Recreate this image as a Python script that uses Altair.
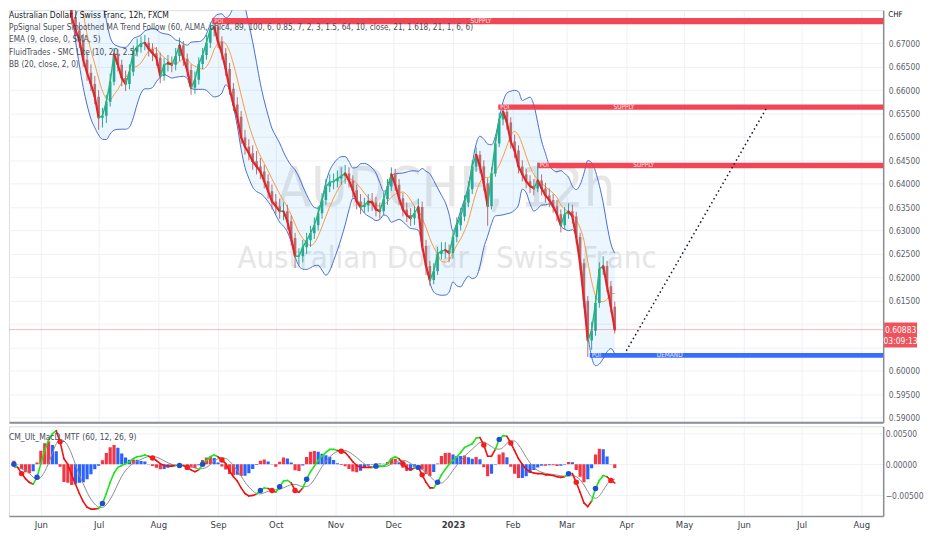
import altair as alt
import pandas as pd

FONT = "'Liberation Sans Narrow', 'DejaVu Sans Condensed', 'Arial Narrow', sans-serif"

# ---------------- data ----------------
start_date = "2022-05-12"   # 2-day bars
first_open = 0.6940
closes = [
    0.6930, 0.6920, 0.6950, 0.6890, 0.6880, 0.6880, 0.6850, 0.6860, 0.6860, 0.6900,
    0.6960, 0.6980, 0.6990, 0.6980, 0.6950, 0.6930, 0.6900, 0.6826, 0.6756, 0.6728,
    0.6707, 0.6665, 0.6637, 0.6613, 0.6586, 0.6541, 0.6545, 0.6575, 0.6618, 0.6677,
    0.6654, 0.6626, 0.6613, 0.6639, 0.6682, 0.6692, 0.6699, 0.6701, 0.6688, 0.6679,
    0.6669, 0.6630, 0.6654, 0.6658, 0.6654, 0.6673, 0.6696, 0.6667, 0.6643, 0.6605,
    0.6622, 0.6656, 0.6675, 0.6701, 0.6730, 0.6735, 0.6703, 0.6679, 0.6645, 0.6603,
    0.6569, 0.6543, 0.6499, 0.6479, 0.6465, 0.6448, 0.6437, 0.6426, 0.6405, 0.6384,
    0.6362, 0.6352, 0.6341, 0.6341, 0.6320, 0.6284, 0.6245, 0.6245, 0.6264, 0.6279,
    0.6294, 0.6311, 0.6337, 0.6365, 0.6394, 0.6403, 0.6405, 0.6411, 0.6416, 0.6422,
    0.6407, 0.6386, 0.6362, 0.6350, 0.6354, 0.6362, 0.6360, 0.6345, 0.6341, 0.6367,
    0.6394, 0.6420, 0.6398, 0.6369, 0.6345, 0.6333, 0.6326, 0.6337, 0.6350, 0.6267,
    0.6224, 0.6194, 0.6213, 0.6250, 0.6256, 0.6258, 0.6252, 0.6286, 0.6311, 0.6330,
    0.6360, 0.6388, 0.6437, 0.6462, 0.6437, 0.6401, 0.6352, 0.6422, 0.6486, 0.6537,
    0.6554, 0.6531, 0.6490, 0.6471, 0.6437, 0.6420, 0.6405, 0.6395, 0.6390, 0.6407,
    0.6390, 0.6375, 0.6365, 0.6352, 0.6335, 0.6311, 0.6335, 0.6341, 0.6330, 0.6286,
    0.6230, 0.6150, 0.6065, 0.6086, 0.6145, 0.6218, 0.6224, 0.6181, 0.6137, 0.60883,
]
highs = [
    0.6955, 0.6945, 0.6965, 0.6960, 0.6905, 0.6900, 0.6890, 0.6875, 0.6878, 0.6912,
    0.6972, 0.6995, 0.7005, 0.7002, 0.6992, 0.6962, 0.6945, 0.6915, 0.6840, 0.6772,
    0.6745, 0.6720, 0.6680, 0.6655, 0.6630, 0.6600, 0.6562, 0.6590, 0.6635, 0.6690,
    0.6688, 0.6665, 0.6642, 0.6655, 0.6695, 0.6710, 0.6715, 0.6718, 0.6712, 0.6700,
    0.6692, 0.6680, 0.6668, 0.6675, 0.6672, 0.6690, 0.6712, 0.6705, 0.6678, 0.6655,
    0.6640, 0.6670, 0.6690, 0.6718, 0.6745, 0.6752, 0.6745, 0.6715, 0.6690, 0.6658,
    0.6615, 0.6585, 0.6555, 0.6515, 0.6495, 0.6482, 0.6470, 0.6455, 0.6440, 0.6420,
    0.6398, 0.6378, 0.6368, 0.6360, 0.6355, 0.6332, 0.6295, 0.6262, 0.6280, 0.6295,
    0.6310, 0.6328, 0.6352, 0.6380, 0.6410, 0.6420, 0.6422, 0.6428, 0.6435, 0.6440,
    0.6435, 0.6418, 0.6398, 0.6378, 0.6370, 0.6378, 0.6380, 0.6372, 0.6360, 0.6382,
    0.6410, 0.6435, 0.6432, 0.6410, 0.6380, 0.6360, 0.6348, 0.6352, 0.6368, 0.6362,
    0.6280, 0.6235, 0.6230, 0.6265, 0.6275, 0.6275, 0.6270, 0.6300, 0.6328, 0.6348,
    0.6375, 0.6405, 0.6450, 0.6478, 0.6470, 0.6450, 0.6412, 0.6435, 0.6500, 0.6552,
    0.6568, 0.6565, 0.6542, 0.6505, 0.6482, 0.6450, 0.6432, 0.6418, 0.6410, 0.6445,
    0.6420, 0.6402, 0.6390, 0.6378, 0.6365, 0.6345, 0.6350, 0.6358, 0.6355, 0.6340,
    0.6295, 0.6240, 0.6160, 0.6105, 0.6160, 0.6232, 0.6245, 0.6235, 0.6192, 0.6148,
]
lows = [
    0.6915, 0.6905, 0.6910, 0.6875, 0.6865, 0.6862, 0.6838, 0.6840, 0.6845, 0.6850,
    0.6892, 0.6950, 0.6968, 0.6965, 0.6938, 0.6915, 0.6885, 0.6815, 0.6740, 0.6712,
    0.6690, 0.6650, 0.6620, 0.6598, 0.6570, 0.6515, 0.6520, 0.6530, 0.6565, 0.6610,
    0.6640, 0.6608, 0.6598, 0.6602, 0.6630, 0.6672, 0.6680, 0.6685, 0.6672, 0.6662,
    0.6652, 0.6615, 0.6620, 0.6640, 0.6638, 0.6642, 0.6662, 0.6652, 0.6628, 0.6590,
    0.6592, 0.6612, 0.6645, 0.6665, 0.6690, 0.6715, 0.6690, 0.6665, 0.6630, 0.6590,
    0.6555, 0.6528, 0.6485, 0.6462, 0.6450, 0.6430, 0.6420, 0.6410, 0.6390, 0.6368,
    0.6345, 0.6335, 0.6325, 0.6322, 0.6302, 0.6268, 0.6220, 0.6225, 0.6232, 0.6250,
    0.6265, 0.6282, 0.6300, 0.6325, 0.6355, 0.6382, 0.6388, 0.6392, 0.6398, 0.6400,
    0.6392, 0.6370, 0.6345, 0.6335, 0.6338, 0.6340, 0.6342, 0.6330, 0.6325, 0.6332,
    0.6355, 0.6385, 0.6385, 0.6355, 0.6330, 0.6318, 0.6310, 0.6312, 0.6325, 0.6255,
    0.6205, 0.6182, 0.6185, 0.6205, 0.6238, 0.6240, 0.6232, 0.6240, 0.6275, 0.6300,
    0.6320, 0.6350, 0.6378, 0.6425, 0.6422, 0.6385, 0.6310, 0.6345, 0.6415, 0.6478,
    0.6525, 0.6515, 0.6475, 0.6455, 0.6422, 0.6405, 0.6390, 0.6380, 0.6375, 0.6382,
    0.6375, 0.6360, 0.6350, 0.6338, 0.6320, 0.6296, 0.6302, 0.6325, 0.6315, 0.6272,
    0.6215, 0.6135, 0.6030, 0.6045, 0.6075, 0.6135, 0.6205, 0.6168, 0.6125, 0.6080,
]
macd_vals = [
    -0.0005, -0.0009, -0.0008, 0.0000, -0.0005, -0.0015, -0.0023, -0.0029, -0.0032, -0.0021,
    0.0001, 0.0022, 0.0039, 0.0049, 0.0054, 0.0036, 0.0009, 0.0000, -0.0017, -0.0032,
    -0.0047, -0.0060, -0.0069, -0.0072, -0.0072, -0.0071, -0.0063, -0.0047, -0.0029, -0.0014,
    -0.0005, -0.0002, 0.0001, 0.0004, 0.0009, 0.0012, 0.0013, 0.0015, 0.0013, 0.0010,
    0.0006, 0.0001, -0.0002, -0.0003, -0.0003, -0.0002, -0.0002, -0.0002, -0.0005, -0.0009,
    -0.0012, -0.0009, 0.0000, 0.0006, 0.0012, 0.0015, 0.0012, 0.0007, 0.0001, -0.0011,
    -0.0020, -0.0027, -0.0038, -0.0047, -0.0051, -0.0050, -0.0048, -0.0042, -0.0038, -0.0039,
    -0.0042, -0.0045, -0.0036, -0.0027, -0.0026, -0.0030, -0.0042, -0.0045, -0.0038, -0.0024,
    -0.0012, -0.0003, 0.0006, 0.0013, 0.0019, 0.0024, 0.0024, 0.0022, 0.0021, 0.0019,
    0.0012, 0.0004, -0.0002, -0.0005, -0.0005, -0.0005, -0.0005, -0.0003, -0.0003, -0.0003,
    0.0001, 0.0009, 0.0012, 0.0009, 0.0001, -0.0006, -0.0009, -0.0006, -0.0005, -0.0017,
    -0.0029, -0.0038, -0.0038, -0.0029, -0.0017, -0.0008, 0.0000, 0.0006, 0.0012, 0.0019,
    0.0027, 0.0030, 0.0033, 0.0042, 0.0043, 0.0031, 0.0013, 0.0013, 0.0024, 0.0040,
    0.0046, 0.0045, 0.0034, 0.0022, 0.0009, 0.0000, -0.0008, -0.0012, -0.0014, -0.0015,
    -0.0015, -0.0017, -0.0017, -0.0018, -0.0020, -0.0021, -0.0020, -0.0015, -0.0015, -0.0029,
    -0.0045, -0.0062, -0.0068, -0.0059, -0.0039, -0.0026, -0.0018, -0.0020, -0.0026, -0.0030,
]

price_ticks = [0.590, 0.595, 0.600, 0.605, 0.610, 0.615, 0.620, 0.625, 0.630,
               0.635, 0.640, 0.645, 0.650, 0.655, 0.660, 0.665, 0.670]
macd_ticks = [-0.005, 0.0, 0.005]
month_ticks = [(2022, 6), (2022, 7), (2022, 8), (2022, 9), (2022, 10), (2022, 11),
               (2022, 12), (2023, 1), (2023, 2), (2023, 3), (2023, 4), (2023, 5),
               (2023, 6), (2023, 7), (2023, 8)]

zone_start = ["2022-08-29T00:00:00", "2023-01-24T12:00:00", "2023-02-14T00:00:00", "2023-03-13T00:00:00"]
zone_top = [0.6754, 0.6569, 0.6445, 0.6038]
zone_bottom = [0.6741, 0.6558, 0.6433, 0.6028]
zone_kind = ["SUPPLY", "SUPPLY", "SUPPLY", "DEMAND"]
zone_label_end = "2023-06-04T00:00:00"
zone_far_end = "2023-09-15T00:00:00"

proj_dates = ["2023-04-01T00:00:00", "2023-06-13T00:00:00"]
proj_prices = [0.6043, 0.6563]

last_price = 0.60883
countdown = "03:09:13"

legend_lines = [
    "PpSignal Super Smoothed MA Trend Follow (60, ALMA, ohlc4, 89, 100, 6, 0.85, 7, 2, 3, 1.5, 64, 10, close, 21, 1.618, 21, 1, 6, 6)",
    "EMA (9, close, 0, SMA, 5)",
    "FluidTrades - SMC Lite  (10, 20, 2.5)",
    "BB (20, close, 2, 0)",
]
title_line = "Australian Dollar / Swiss Franc, 12h, FXCM"
macd_title = "CM_Ult_MacD_MTF (60, 12, 26, 9)"

# ---------------- tables ----------------
dates = pd.date_range(start_date, periods=len(closes), freq="2D")
opens = [first_open] + closes[:-1]
df = pd.DataFrame({"date": dates, "open": opens, "high": highs, "low": lows, "close": closes})
dm = pd.DataFrame({"date": dates, "macd": macd_vals})
zones = pd.DataFrame({"start": zone_start, "top": zone_top, "bottom": zone_bottom,
                      "kind": zone_kind, "lend": zone_label_end, "fend": zone_far_end})
proj = pd.DataFrame({"date": proj_dates, "price": proj_prices})
lastdf = pd.DataFrame({"p": [last_price], "t": [f"{last_price:.5f}"], "c": [countdown]})
one = pd.DataFrame({"a": [0]})

# ---------------- layout / scales ----------------
W = 878
H_MAIN = 414
H_MACD = 90
GRID = "#eef1f7"
AXC = "#8b8e97"
LBL = "#5d606b"
VISIBLE = "time(toDate(datum.date)) >= time(datetime(2022, 4, 16, 12))"

xscale = alt.Scale(domain=[alt.DateTime(year=2022, month=5, date=15, hours=11),
                           alt.DateTime(year=2023, month=8, date=12, hours=9)],
                   nice=False, padding=0)
mvals = [alt.DateTime(year=y, month=m, date=1) for (y, m) in month_ticks]
x_axis_main = alt.Axis(values=mvals, labels=False, ticks=False, grid=True, gridColor=GRID,
                       domain=True, domainColor=AXC, domainWidth=2, title=None)
x_axis_macd = alt.Axis(values=mvals, ticks=False, grid=True, gridColor=GRID,
                       domain=True, domainColor=AXC, domainWidth=1.5, title=None,
                       labelExpr="month(datum.value) == 0 ? timeFormat(datum.value, '%Y') : timeFormat(datum.value, '%b')",
                       labelFontWeight={"condition": {"test": "month(datum.value) == 0", "value": "bold"},
                                        "value": "normal"},
                       labelFont=FONT, labelFontSize=9.5, labelColor="#3b3e48", labelPadding=4)

yscale = alt.Scale(domain=[0.58901, 0.67709], zero=False, nice=False, padding=0)
y_axis_main = alt.Axis(orient="right", values=price_ticks, format=".5f", grid=True, gridColor=GRID,
                       ticks=False, domain=True, domainColor=AXC, domainWidth=1.5, title=None,
                       labelExpr="(abs(datum.value - 0.61) < 0.0001 || abs(datum.value - 0.605) < 0.0001) ? '' : datum.label",
                       labelFont=FONT, labelFontSize=8.5, labelColor=LBL, labelPadding=5)
mscale = alt.Scale(domain=[-0.0083, 0.0061], zero=False, nice=False, padding=0)
y_axis_macd = alt.Axis(orient="right", values=macd_ticks, format=".5f", grid=True, gridColor=GRID,
                       ticks=False, domain=True, domainColor=AXC, domainWidth=1.5, title=None,
                       labelFont=FONT, labelFontSize=8.5, labelColor=LBL, labelPadding=2)


def mx(f):
    return alt.X(f"{f}:T", scale=xscale, axis=x_axis_main)


def my(f):
    return alt.Y(f"{f}:Q", scale=yscale, axis=y_axis_main)


def ax(f):
    return alt.X(f"{f}:T", scale=xscale, axis=x_axis_macd)


def ay(f):
    return alt.Y(f"{f}:Q", scale=mscale, axis=y_axis_macd)


SORT = [alt.SortField(field="date", order="ascending")]

# ---------------- main panel ----------------
wm1 = alt.Chart(one).mark_text(font=FONT, fontSize=56, color="#e6e6e6", align="center",
                               baseline="alphabetic").encode(
    x=alt.value(439), y=alt.value(197), text=alt.value("AUDCHF, 12h"))
wm2 = alt.Chart(one).mark_text(font=FONT, fontSize=31, color="#e6e6e6", align="center",
                               baseline="alphabetic").encode(
    x=alt.value(440), y=alt.value(259), text=alt.value("Australian Dollar / Swiss Franc"))

bb = alt.Chart(df).transform_window(
    window=[alt.WindowFieldDef(op="mean", field="close", **{"as": "bm"}),
            alt.WindowFieldDef(op="stdevp", field="close", **{"as": "bs"})],
    frame=[-8, 0], sort=SORT
).transform_calculate(up="datum.bm + 2 * datum.bs", lo="datum.bm - 2 * datum.bs"
                      ).transform_filter(VISIBLE)

bb_fill = bb.mark_area(color="#2196f3", opacity=0.09, clip=True, interpolate="monotone").encode(
    x=mx("date"), y=my("up"), y2=alt.Y2("lo"))
bb_up = bb.mark_line(color="#4a6cd4", strokeWidth=1, clip=True, interpolate="monotone").encode(
    x=mx("date"), y=my("up"))
bb_lo = bb.mark_line(color="#4a6cd4", strokeWidth=1, clip=True, interpolate="monotone").encode(
    x=mx("date"), y=my("lo"))

ma = alt.Chart(df).transform_window(
    window=[alt.WindowFieldDef(op="mean", field="close", **{"as": "ma"})],
    frame=[-5, 0], sort=SORT
).transform_filter(VISIBLE).mark_line(color="#ff9a3c", strokeWidth=1, clip=True,
                                      interpolate="monotone").encode(
    x=mx("date"), y=my("ma"))

UP = "#26a69a"
DOWN = "#b56f6c"
ccol = alt.condition("datum.open <= datum.close", alt.value(UP), alt.value(DOWN))
cand = alt.Chart(df).transform_filter(VISIBLE)
wicks = cand.mark_rule(strokeWidth=1, clip=True).encode(
    x=mx("date"), y=my("low"), y2=alt.Y2("high"), color=ccol)
bodies = cand.mark_bar(size=2.6, clip=True).encode(
    x=mx("date"), y=my("open"), y2=alt.Y2("close"), color=ccol)

sig = alt.Chart(df).transform_window(
    window=[alt.WindowFieldDef(op="lead", field="close", **{"as": "nc"}),
            alt.WindowFieldDef(op="lead", field="date", **{"as": "nd"})],
    sort=SORT
).transform_filter("isValid(datum.nc)").transform_filter(VISIBLE).mark_rule(
    clip=True, strokeCap="round").encode(
    x=mx("date"), x2=alt.X2("nd"), y=my("close"), y2=alt.Y2("nc"),
    color=alt.condition("datum.nc < datum.close", alt.value("#e3242b"), alt.value("#2bb673")),
    strokeWidth=alt.condition("datum.nc < datum.close", alt.value(2.2), alt.value(1.5)))

zone_color = alt.Color("kind:N", scale=alt.Scale(domain=["SUPPLY", "DEMAND"],
                                                 range=["#f23645", "#2962ff"]), legend=None)
zrect = alt.Chart(zones).mark_rect(opacity=0.92, clip=True).encode(
    x=mx("start"), x2=alt.X2("fend"), y=my("top"), y2=alt.Y2("bottom"), color=zone_color)
ztext = alt.Chart(zones).transform_calculate(
    mid="(time(toDate(datum.start)) + time(toDate(datum.lend))) / 2",
    ym="(datum.top + datum.bottom) / 2"
).mark_text(font=FONT, fontSize=6.5, color="white", opacity=0.85, align="center",
            baseline="middle").encode(x=mx("mid"), y=my("ym"), text="kind:N")
zpoi = alt.Chart(zones).transform_calculate(ym="(datum.top + datum.bottom) / 2").mark_text(
    font=FONT, fontSize=6, color="white", opacity=0.85, align="left", baseline="middle", dx=2
).encode(x=mx("start"), y=my("ym"), text=alt.value("POI"))

projl = alt.Chart(proj).mark_line(color="#131722", strokeWidth=1.5, strokeDash=[1.5, 3]).encode(
    x=mx("date"), y=my("price"))

prule = alt.Chart(lastdf).mark_rule(color="#f23645", opacity=0.35, strokeWidth=1).encode(y=my("p"))

tag = alt.Chart(lastdf).mark_rect(color="#f0525c", yOffset=-7, y2Offset=18, clip=False).encode(
    x=alt.value(W + 1), x2=alt.value(W + 34), y=my("p"), y2=alt.Y2("p"))
tag1 = alt.Chart(lastdf).mark_text(font=FONT, fontSize=8.5, color="white", align="center",
                                   baseline="middle").encode(x=alt.value(W + 17.5), y=my("p"), text="t:N")
tag2 = alt.Chart(lastdf).mark_text(font=FONT, fontSize=8.5, color="white", align="center",
                                   baseline="middle", dy=11).encode(x=alt.value(W + 17.5), y=my("p"), text="c:N")

chf = alt.Chart(one).mark_text(font=FONT, fontSize=8, color="#131722", align="left",
                               baseline="middle").encode(
    x=alt.value(W + 5), y=alt.value(5), text=alt.value("CHF"))

leg = [alt.Chart(one).mark_text(font=FONT, fontSize=8.5, color="#131722", align="left",
                                baseline="middle").encode(
    x=alt.value(0), y=alt.value(5), text=alt.value(title_line))]
for i, line in enumerate(legend_lines):
    leg.append(alt.Chart(one).mark_text(font=FONT, fontSize=8.2, color="#4a4d57", align="left",
                                        baseline="middle").encode(
        x=alt.value(0), y=alt.value(18 + 12.4 * i), text=alt.value(line)))

main = alt.layer(wm1, wm2, bb_fill, bb_up, bb_lo, ma, wicks, bodies, sig, zrect, ztext, zpoi,
                 projl, prule, tag, tag1, tag2, chf, *leg).properties(width=W, height=H_MAIN)

# ---------------- MACD panel ----------------
mb = alt.Chart(dm).transform_window(
    window=[alt.WindowFieldDef(op="mean", field="macd", **{"as": "signal"})],
    frame=[-4, 0], sort=SORT
).transform_calculate(hist="datum.macd - datum.signal").transform_window(
    window=[alt.WindowFieldDef(op="lag", field="hist", **{"as": "ph"}),
            alt.WindowFieldDef(op="lead", field="macd", **{"as": "nm"}),
            alt.WindowFieldDef(op="lead", field="signal", **{"as": "ns"}),
            alt.WindowFieldDef(op="lead", field="date", **{"as": "nd"})],
    sort=SORT
).transform_calculate(
    hc="datum.hist > 0 ? (datum.hist >= datum.ph ? 'a' : 'b') : (datum.hist < datum.ph ? 'c' : 'd')",
    nh="datum.nm - datum.ns"
).transform_filter(VISIBLE)

hist = mb.mark_bar(size=3.2, clip=True).encode(
    x=ax("date"), y=ay("hist"), y2=alt.datum(0),
    color=alt.Color("hc:N", scale=alt.Scale(domain=["a", "b", "c", "d"],
                                            range=["#18dcff", "#2a35e8", "#ee3b3b", "#8c1d1d"]),
                    legend=None))
sigl = mb.mark_line(color="#8c8c8c", strokeWidth=1, clip=True, interpolate="monotone").encode(
    x=ax("date"), y=ay("signal"))
mline = mb.transform_filter("isValid(datum.nm)").mark_rule(strokeWidth=1.6, clip=True,
                                                         strokeCap="round").encode(
    x=ax("date"), x2=alt.X2("nd"), y=ay("macd"), y2=alt.Y2("nm"),
    color=alt.condition("datum.nh > 0", alt.value("#19e619"), alt.value("#f01010")))
dots = mb.transform_filter("isValid(datum.ph) && ((datum.hist > 0) != (datum.ph > 0))").mark_circle(
    size=30, opacity=1, clip=True).encode(
    x=ax("date"), y=ay("macd"),
    color=alt.condition("datum.hist > 0", alt.value("#1f4fd0"), alt.value("#f41d1d")))
mtitle = alt.Chart(one).mark_text(font=FONT, fontSize=8.5, color="#4a4d57", align="left",
                                  baseline="middle").encode(
    x=alt.value(0), y=alt.value(11), text=alt.value(macd_title))

macd = alt.layer(hist, sigl, mline, dots, mtitle).properties(width=W, height=H_MACD)

chart = alt.vconcat(main, macd, spacing=2).properties(
    padding={"left": 0, "top": 0, "right": 0, "bottom": 0}, background="white"
).configure_view(strokeWidth=0).configure(font=FONT)

chart.save("out.html", embed_options={"renderer": "svg", "actions": False})
